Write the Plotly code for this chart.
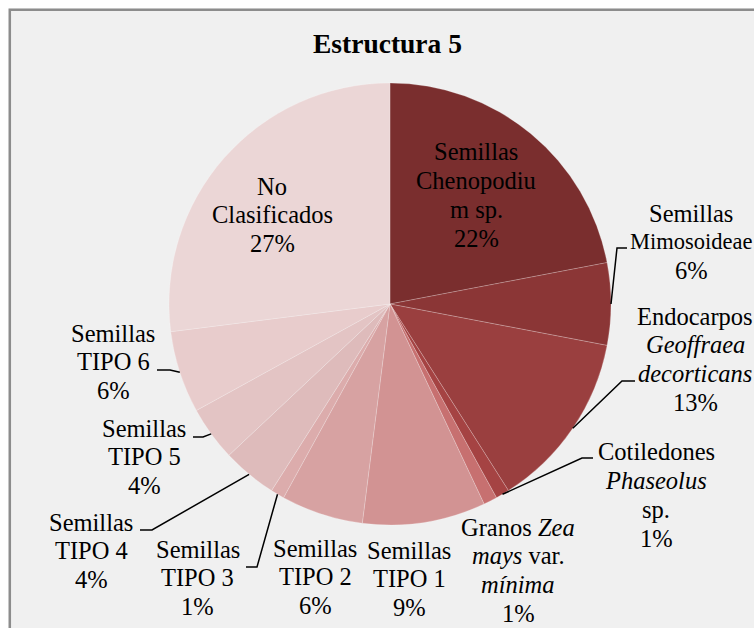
import math
import plotly.graph_objects as go

# ---- data -------------------------------------------------------------
categories = [
    "Semillas Chenopodium sp.",
    "Semillas Mimosoideae",
    "Endocarpos Geoffraea decorticans",
    "Cotiledones Phaseolus sp.",
    "Granos Zea mays var. mínima",
    "Semillas TIPO 1",
    "Semillas TIPO 2",
    "Semillas TIPO 3",
    "Semillas TIPO 4",
    "Semillas TIPO 5",
    "Semillas TIPO 6",
    "No Clasificados",
]
percent = [22, 6, 13, 1, 1, 9, 6, 1, 4, 4, 6, 27]

# wrapped label text for each slice (percentage line is appended from data)
name_lines = [
    ["Semillas", "Chenopodiu", "m sp."],
    ["Semillas", "Mimosoideae"],
    ["Endocarpos", "<i>Geoffraea</i>", "<i>decorticans</i>"],
    ["Cotiledones", "<i>Phaseolus</i>", "sp."],
    ["Granos <i>Zea</i>", "<i>mays</i> var.", "<i>mínima</i>"],
    ["Semillas", "TIPO 1"],
    ["Semillas", "TIPO 2"],
    ["Semillas", "TIPO 3"],
    ["Semillas", "TIPO 4"],
    ["Semillas", "TIPO 5"],
    ["Semillas", "TIPO 6"],
    ["No", "Clasificados"],
]

# ---- style ------------------------------------------------------------
colors = [
    "#7a2e2e", "#8b3636", "#9a3f3f", "#a54343", "#c77070", "#d29393",
    "#d7a2a2", "#dcacac", "#debbbb", "#e3c4c4", "#e8cccc", "#ebd6d6",
]

W, H = 754, 628
CX, CY, R = 390, 304, 221          # pie centre and radius in pixels
FONT = "Liberation Serif"
FS = 24.5
LINE_H = 28.8

# label block anchor: (centre x, first line centre y) in pixels
label_pos = [
    (476, 152), (691, 213), (695, 316), (656, 452), (518, 527), (409, 550),
    (315, 548), (198, 549), (91, 522), (144, 428), (113, 333), (272, 186),
]
# per-line font size overrides
line_size = {(1, 1): 22.5}
# leader line elbow and end points (pixels), keyed by slice index
leaders = {
    1: [(617, 248), (627, 248)],
    2: [(622, 381), (635, 381)],
    3: [(582, 458), (593, 458)],
    7: [(257, 567), (246, 567)],
    8: [(152, 530), (140, 530)],
    9: [(203, 437), (193, 437)],
    10: [(170, 370), (157, 370)],
}


def px(x):
    return x / W


def py(y):
    return 1 - y / H


fig = go.Figure(
    go.Pie(
        labels=categories,
        values=percent,
        sort=False,
        direction="clockwise",
        rotation=0,
        textinfo="none",
        hoverinfo="label+percent",
        marker=dict(colors=colors, line=dict(color="rgba(255,255,255,0.35)", width=0.6)),
        domain=dict(x=[px(CX - R), px(CX + R)], y=[py(CY + R), py(CY - R)]),
        showlegend=False,
    )
)

annotations = []
shapes = []

# title
annotations.append(dict(
    text="<b>Estructura 5</b>", x=px(387.5), y=py(43), xref="paper", yref="paper",
    xanchor="center", yanchor="middle", showarrow=False,
    font=dict(family=FONT, size=27.5, color="black"),
))

# slice labels, one annotation per text line
total = sum(percent)
cum = 0
for i, v in enumerate(percent):
    mid = (cum + v / 2) / total * 2 * math.pi
    cum += v
    lines = name_lines[i] + [f"{v}%"]
    lx, ly = label_pos[i]
    for j, t in enumerate(lines):
        annotations.append(dict(
            text=t, x=px(lx), y=py(ly + j * LINE_H), xref="paper", yref="paper",
            xanchor="center", yanchor="middle", showarrow=False,
            font=dict(family=FONT, size=line_size.get((i, j), FS), color="black"),
        ))
    if i in leaders:
        sx = CX + R * math.sin(mid)
        sy = CY - R * math.cos(mid)
        pts = [(sx, sy)] + leaders[i]
        path = "M " + " L ".join(f"{px(a):.5f},{py(b):.5f}" for a, b in pts)
        shapes.append(dict(type="path", path=path, xref="paper", yref="paper",
                           line=dict(color="black", width=1.5)))

# chart frame: white outer strip and grey border
shapes += [
    dict(type="rect", xref="paper", yref="paper", x0=px(-5), x1=px(8.5), y0=py(H + 20), y1=py(-5),
         fillcolor="white", line=dict(width=0), layer="below"),
    dict(type="rect", xref="paper", yref="paper", x0=px(-5), x1=px(W + 20), y0=py(8.5), y1=py(-5),
         fillcolor="white", line=dict(width=0), layer="below"),
    dict(type="path", xref="paper", yref="paper",
         path=f"M {px(9.8)},{py(H + 20)} L {px(9.8)},{py(9.8)} L {px(W + 20)},{py(9.8)}",
         line=dict(color="#8c8c8c", width=2.5)),
]

fig.update_layout(
    width=W, height=H,
    margin=dict(l=0, r=0, t=0, b=0),
    paper_bgcolor="#f0f0f0",
    plot_bgcolor="#f0f0f0",
    font=dict(family=FONT),
    annotations=annotations,
    shapes=shapes,
)

fig.write_html("out.html")
